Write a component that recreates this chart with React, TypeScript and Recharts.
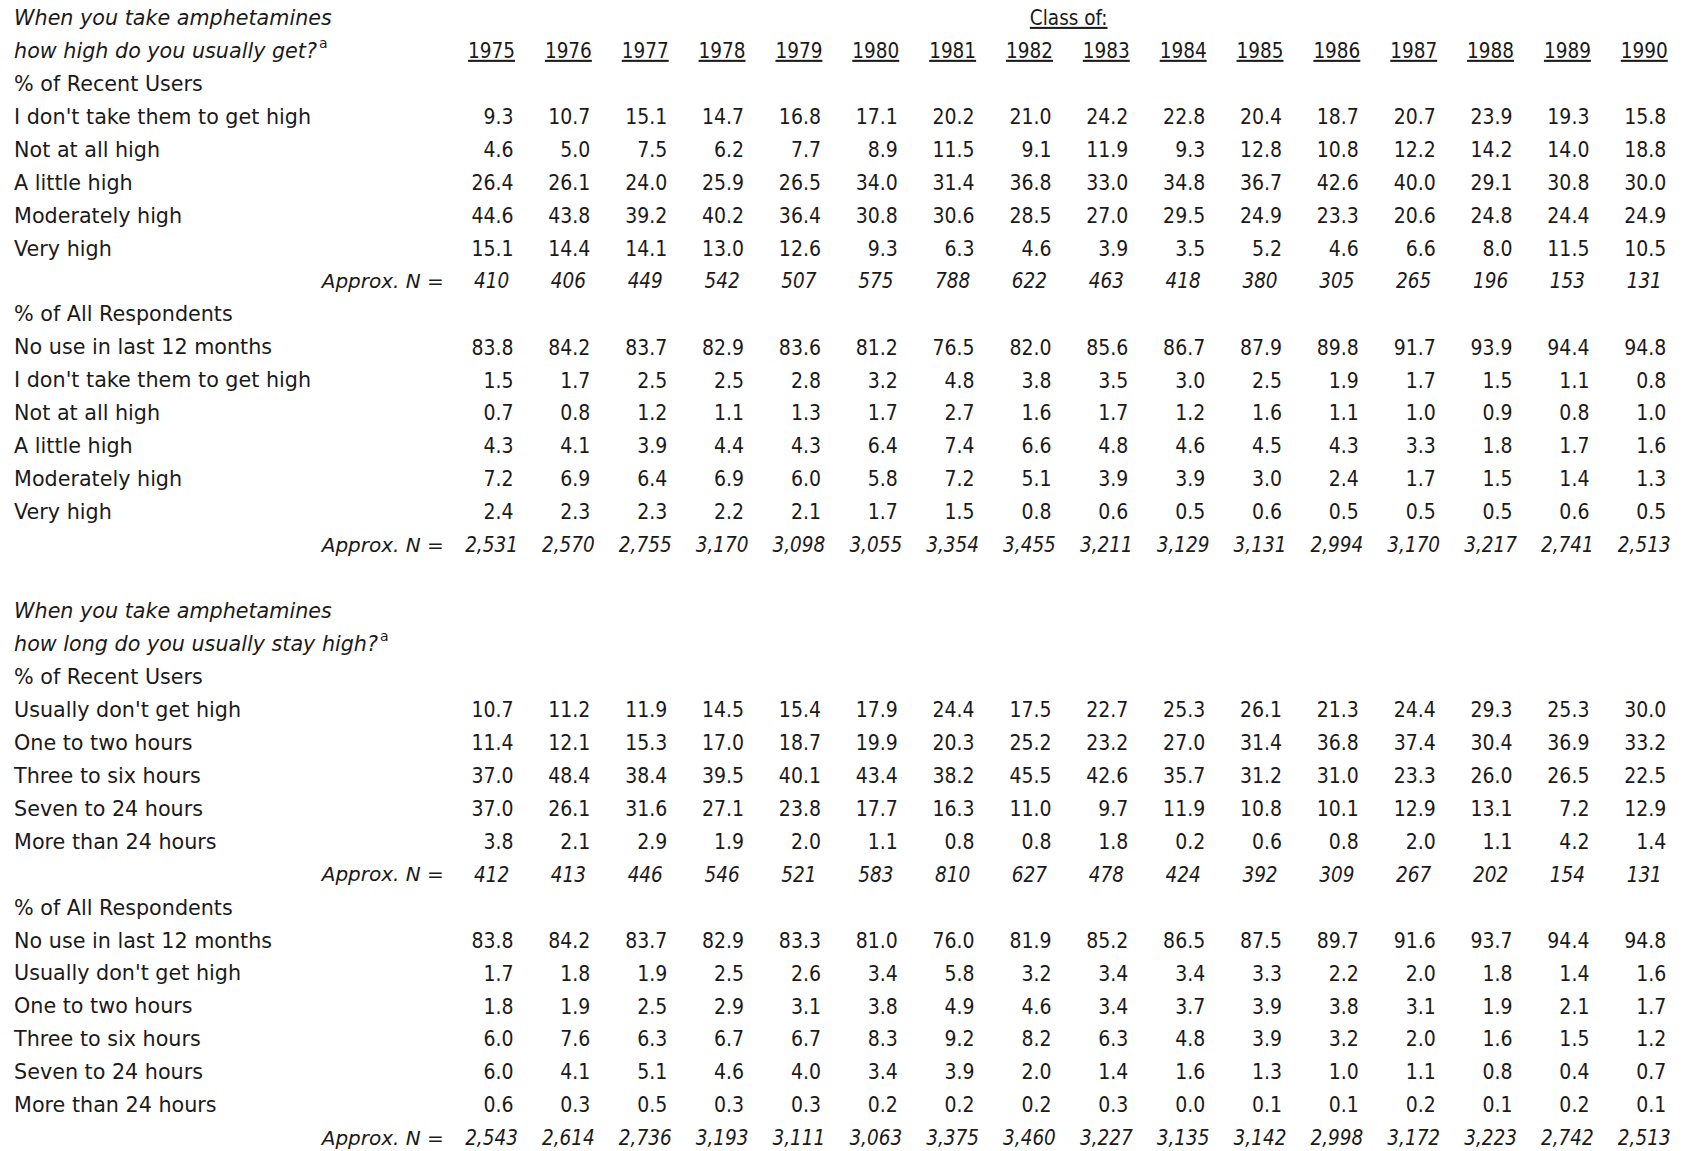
import { ScatterChart, Scatter, XAxis, YAxis } from 'recharts';

const years = ['1975', '1976', '1977', '1978', '1979', '1980', '1981', '1982', '1983', '1984', '1985', '1986', '1987', '1988', '1989', '1990'];

// how high
const highRecentLabels = ["I don't take them to get high", 'Not at all high', 'A little high', 'Moderately high', 'Very high'];
const highRecent = [
  [9.3, 10.7, 15.1, 14.7, 16.8, 17.1, 20.2, 21.0, 24.2, 22.8, 20.4, 18.7, 20.7, 23.9, 19.3, 15.8],
  [4.6, 5.0, 7.5, 6.2, 7.7, 8.9, 11.5, 9.1, 11.9, 9.3, 12.8, 10.8, 12.2, 14.2, 14.0, 18.8],
  [26.4, 26.1, 24.0, 25.9, 26.5, 34.0, 31.4, 36.8, 33.0, 34.8, 36.7, 42.6, 40.0, 29.1, 30.8, 30.0],
  [44.6, 43.8, 39.2, 40.2, 36.4, 30.8, 30.6, 28.5, 27.0, 29.5, 24.9, 23.3, 20.6, 24.8, 24.4, 24.9],
  [15.1, 14.4, 14.1, 13.0, 12.6, 9.3, 6.3, 4.6, 3.9, 3.5, 5.2, 4.6, 6.6, 8.0, 11.5, 10.5],
];
const nHighRecent = [410, 406, 449, 542, 507, 575, 788, 622, 463, 418, 380, 305, 265, 196, 153, 131];

const highAllLabels = ['No use in last 12 months', ...highRecentLabels];
const highAll = [
  [83.8, 84.2, 83.7, 82.9, 83.6, 81.2, 76.5, 82.0, 85.6, 86.7, 87.9, 89.8, 91.7, 93.9, 94.4, 94.8],
  [1.5, 1.7, 2.5, 2.5, 2.8, 3.2, 4.8, 3.8, 3.5, 3.0, 2.5, 1.9, 1.7, 1.5, 1.1, 0.8],
  [0.7, 0.8, 1.2, 1.1, 1.3, 1.7, 2.7, 1.6, 1.7, 1.2, 1.6, 1.1, 1.0, 0.9, 0.8, 1.0],
  [4.3, 4.1, 3.9, 4.4, 4.3, 6.4, 7.4, 6.6, 4.8, 4.6, 4.5, 4.3, 3.3, 1.8, 1.7, 1.6],
  [7.2, 6.9, 6.4, 6.9, 6.0, 5.8, 7.2, 5.1, 3.9, 3.9, 3.0, 2.4, 1.7, 1.5, 1.4, 1.3],
  [2.4, 2.3, 2.3, 2.2, 2.1, 1.7, 1.5, 0.8, 0.6, 0.5, 0.6, 0.5, 0.5, 0.5, 0.6, 0.5],
];
const nHighAll = [2531, 2570, 2755, 3170, 3098, 3055, 3354, 3455, 3211, 3129, 3131, 2994, 3170, 3217, 2741, 2513];

// how long
const longRecentLabels = ["Usually don't get high", 'One to two hours', 'Three to six hours', 'Seven to 24 hours', 'More than 24 hours'];
const longRecent = [
  [10.7, 11.2, 11.9, 14.5, 15.4, 17.9, 24.4, 17.5, 22.7, 25.3, 26.1, 21.3, 24.4, 29.3, 25.3, 30.0],
  [11.4, 12.1, 15.3, 17.0, 18.7, 19.9, 20.3, 25.2, 23.2, 27.0, 31.4, 36.8, 37.4, 30.4, 36.9, 33.2],
  [37.0, 48.4, 38.4, 39.5, 40.1, 43.4, 38.2, 45.5, 42.6, 35.7, 31.2, 31.0, 23.3, 26.0, 26.5, 22.5],
  [37.0, 26.1, 31.6, 27.1, 23.8, 17.7, 16.3, 11.0, 9.7, 11.9, 10.8, 10.1, 12.9, 13.1, 7.2, 12.9],
  [3.8, 2.1, 2.9, 1.9, 2.0, 1.1, 0.8, 0.8, 1.8, 0.2, 0.6, 0.8, 2.0, 1.1, 4.2, 1.4],
];
const nLongRecent = [412, 413, 446, 546, 521, 583, 810, 627, 478, 424, 392, 309, 267, 202, 154, 131];

const longAllLabels = ['No use in last 12 months', ...longRecentLabels];
const longAll = [
  [83.8, 84.2, 83.7, 82.9, 83.3, 81.0, 76.0, 81.9, 85.2, 86.5, 87.5, 89.7, 91.6, 93.7, 94.4, 94.8],
  [1.7, 1.8, 1.9, 2.5, 2.6, 3.4, 5.8, 3.2, 3.4, 3.4, 3.3, 2.2, 2.0, 1.8, 1.4, 1.6],
  [1.8, 1.9, 2.5, 2.9, 3.1, 3.8, 4.9, 4.6, 3.4, 3.7, 3.9, 3.8, 3.1, 1.9, 2.1, 1.7],
  [6.0, 7.6, 6.3, 6.7, 6.7, 8.3, 9.2, 8.2, 6.3, 4.8, 3.9, 3.2, 2.0, 1.6, 1.5, 1.2],
  [6.0, 4.1, 5.1, 4.6, 4.0, 3.4, 3.9, 2.0, 1.4, 1.6, 1.3, 1.0, 1.1, 0.8, 0.4, 0.7],
  [0.6, 0.3, 0.5, 0.3, 0.3, 0.2, 0.2, 0.2, 0.3, 0.0, 0.1, 0.1, 0.2, 0.1, 0.2, 0.1],
];
const nLongAll = [2543, 2614, 2736, 3193, 3111, 3063, 3375, 3460, 3227, 3135, 3142, 2998, 3172, 3223, 2742, 2513];

const sections = [
  { q1: 'When you take amphetamines', q2: 'how high do you usually get?', recentLabels: highRecentLabels, recent: highRecent, nRecent: nHighRecent, allLabels: highAllLabels, all: highAll, nAll: nHighAll },
  { q1: 'When you take amphetamines', q2: 'how long do you usually stay high?', recentLabels: longRecentLabels, recent: longRecent, nRecent: nLongRecent, allLabels: longAllLabels, all: longAll, nAll: nLongAll },
];

// column positions (x axis = column index, row axis = line index)
const LABEL_COL = -6.213;
const NLABEL_COL = -0.62;
const CLASS_COL = 7.51;

type Cell = { col: number; row: number; text: string };
const labels: Cell[] = [];
const titles: Cell[] = [];
const values: Cell[] = [];
const nValues: Cell[] = [];
const nLabels: Cell[] = [];
const headers: Cell[] = [];

let r = 0;
sections.forEach((s, si) => {
  titles.push({ col: LABEL_COL, row: r, text: s.q1 });
  titles.push({ col: LABEL_COL, row: r + 1, text: s.q2 });
  if (si === 0) {
    headers.push({ col: CLASS_COL, row: r, text: 'Class of:' });
    years.forEach((y, i) => headers.push({ col: i, row: r + 1, text: y }));
  }
  r += 2;
  labels.push({ col: LABEL_COL, row: r, text: '% of Recent Users' });
  r += 1;
  s.recent.forEach((vals, k) => {
    labels.push({ col: LABEL_COL, row: r, text: s.recentLabels[k] });
    vals.forEach((v, i) => values.push({ col: i, row: r, text: v.toFixed(1) }));
    r += 1;
  });
  nLabels.push({ col: NLABEL_COL, row: r, text: 'Approx. N =' });
  s.nRecent.forEach((v, i) => nValues.push({ col: i, row: r, text: v.toLocaleString('en-US') }));
  r += 1;
  labels.push({ col: LABEL_COL, row: r, text: '% of All Respondents' });
  r += 1;
  s.all.forEach((vals, k) => {
    labels.push({ col: LABEL_COL, row: r, text: s.allLabels[k] });
    vals.forEach((v, i) => values.push({ col: i, row: r, text: v.toFixed(1) }));
    r += 1;
  });
  nLabels.push({ col: NLABEL_COL, row: r, text: 'Approx. N =' });
  s.nAll.forEach((v, i) => nValues.push({ col: i, row: r, text: v.toLocaleString('en-US') }));
  r += 2;
});

const LABEL_FONT = "'DejaVu Sans', sans-serif";
const NUM_FONT = "'DejaVu Sans Condensed', 'Liberation Sans Narrow', sans-serif";
const INK = '#1a1a1a';

const labelShape = (p: any) => (
  <text x={p.cx} y={p.cy} dy="0.36em" fontFamily={LABEL_FONT} fontSize={20.7} fill={INK}>{p.payload.text}</text>
);
const titleShape = (p: any) => (
  <text x={p.cx} y={p.cy} dy="0.36em" fontFamily={LABEL_FONT} fontSize={20.7} fontStyle="italic" fill={INK}>
    {p.payload.text}
    {p.payload.text.endsWith('?') && <tspan dx={2} dy={-10} fontSize={14} fontStyle="normal">a</tspan>}
  </text>
);
const valueShape = (p: any) => (
  <text x={p.cx} y={p.cy} dx={22} dy="0.36em" textAnchor="end" fontFamily={NUM_FONT} fontSize={21} fill={INK}>{p.payload.text}</text>
);
const nShape = (p: any) => (
  <text x={p.cx} y={p.cy} dy="0.36em" textAnchor="middle" fontFamily={NUM_FONT} fontSize={20.5} fontStyle="italic" fill={INK}>{p.payload.text}</text>
);
const nLabelShape = (p: any) => (
  <text x={p.cx} y={p.cy} dy="0.36em" textAnchor="end" fontFamily={LABEL_FONT} fontSize={20} fontStyle="italic" fill={INK}>{p.payload.text}</text>
);
const headerShape = (p: any) => (
  <text x={p.cx} y={p.cy} dy="0.36em" textAnchor="middle" fontFamily={NUM_FONT} fontSize={20.5} fill={INK} style={{ textDecoration: 'underline' }}>{p.payload.text}</text>
);

export default function App() {
  return (
    <div style={{ position: 'absolute', left: 0, top: 0, width: 1685, height: 1151, background: '#fff' }}>
      <ScatterChart width={1685} height={1151} margin={{ top: 0, right: 0, bottom: 0, left: 0 }}>
        <XAxis type="number" dataKey="col" domain={[-6.396, 15.53]} allowDataOverflow hide />
        <YAxis type="number" dataKey="row" domain={[-0.5311, 34.401]} allowDataOverflow reversed hide />
        <Scatter data={titles} shape={titleShape} isAnimationActive={false} />
        <Scatter data={labels} shape={labelShape} isAnimationActive={false} />
        <Scatter data={headers} shape={headerShape} isAnimationActive={false} />
        <Scatter data={values} shape={valueShape} isAnimationActive={false} />
        <Scatter data={nLabels} shape={nLabelShape} isAnimationActive={false} />
        <Scatter data={nValues} shape={nShape} isAnimationActive={false} />
      </ScatterChart>
    </div>
  );
}
